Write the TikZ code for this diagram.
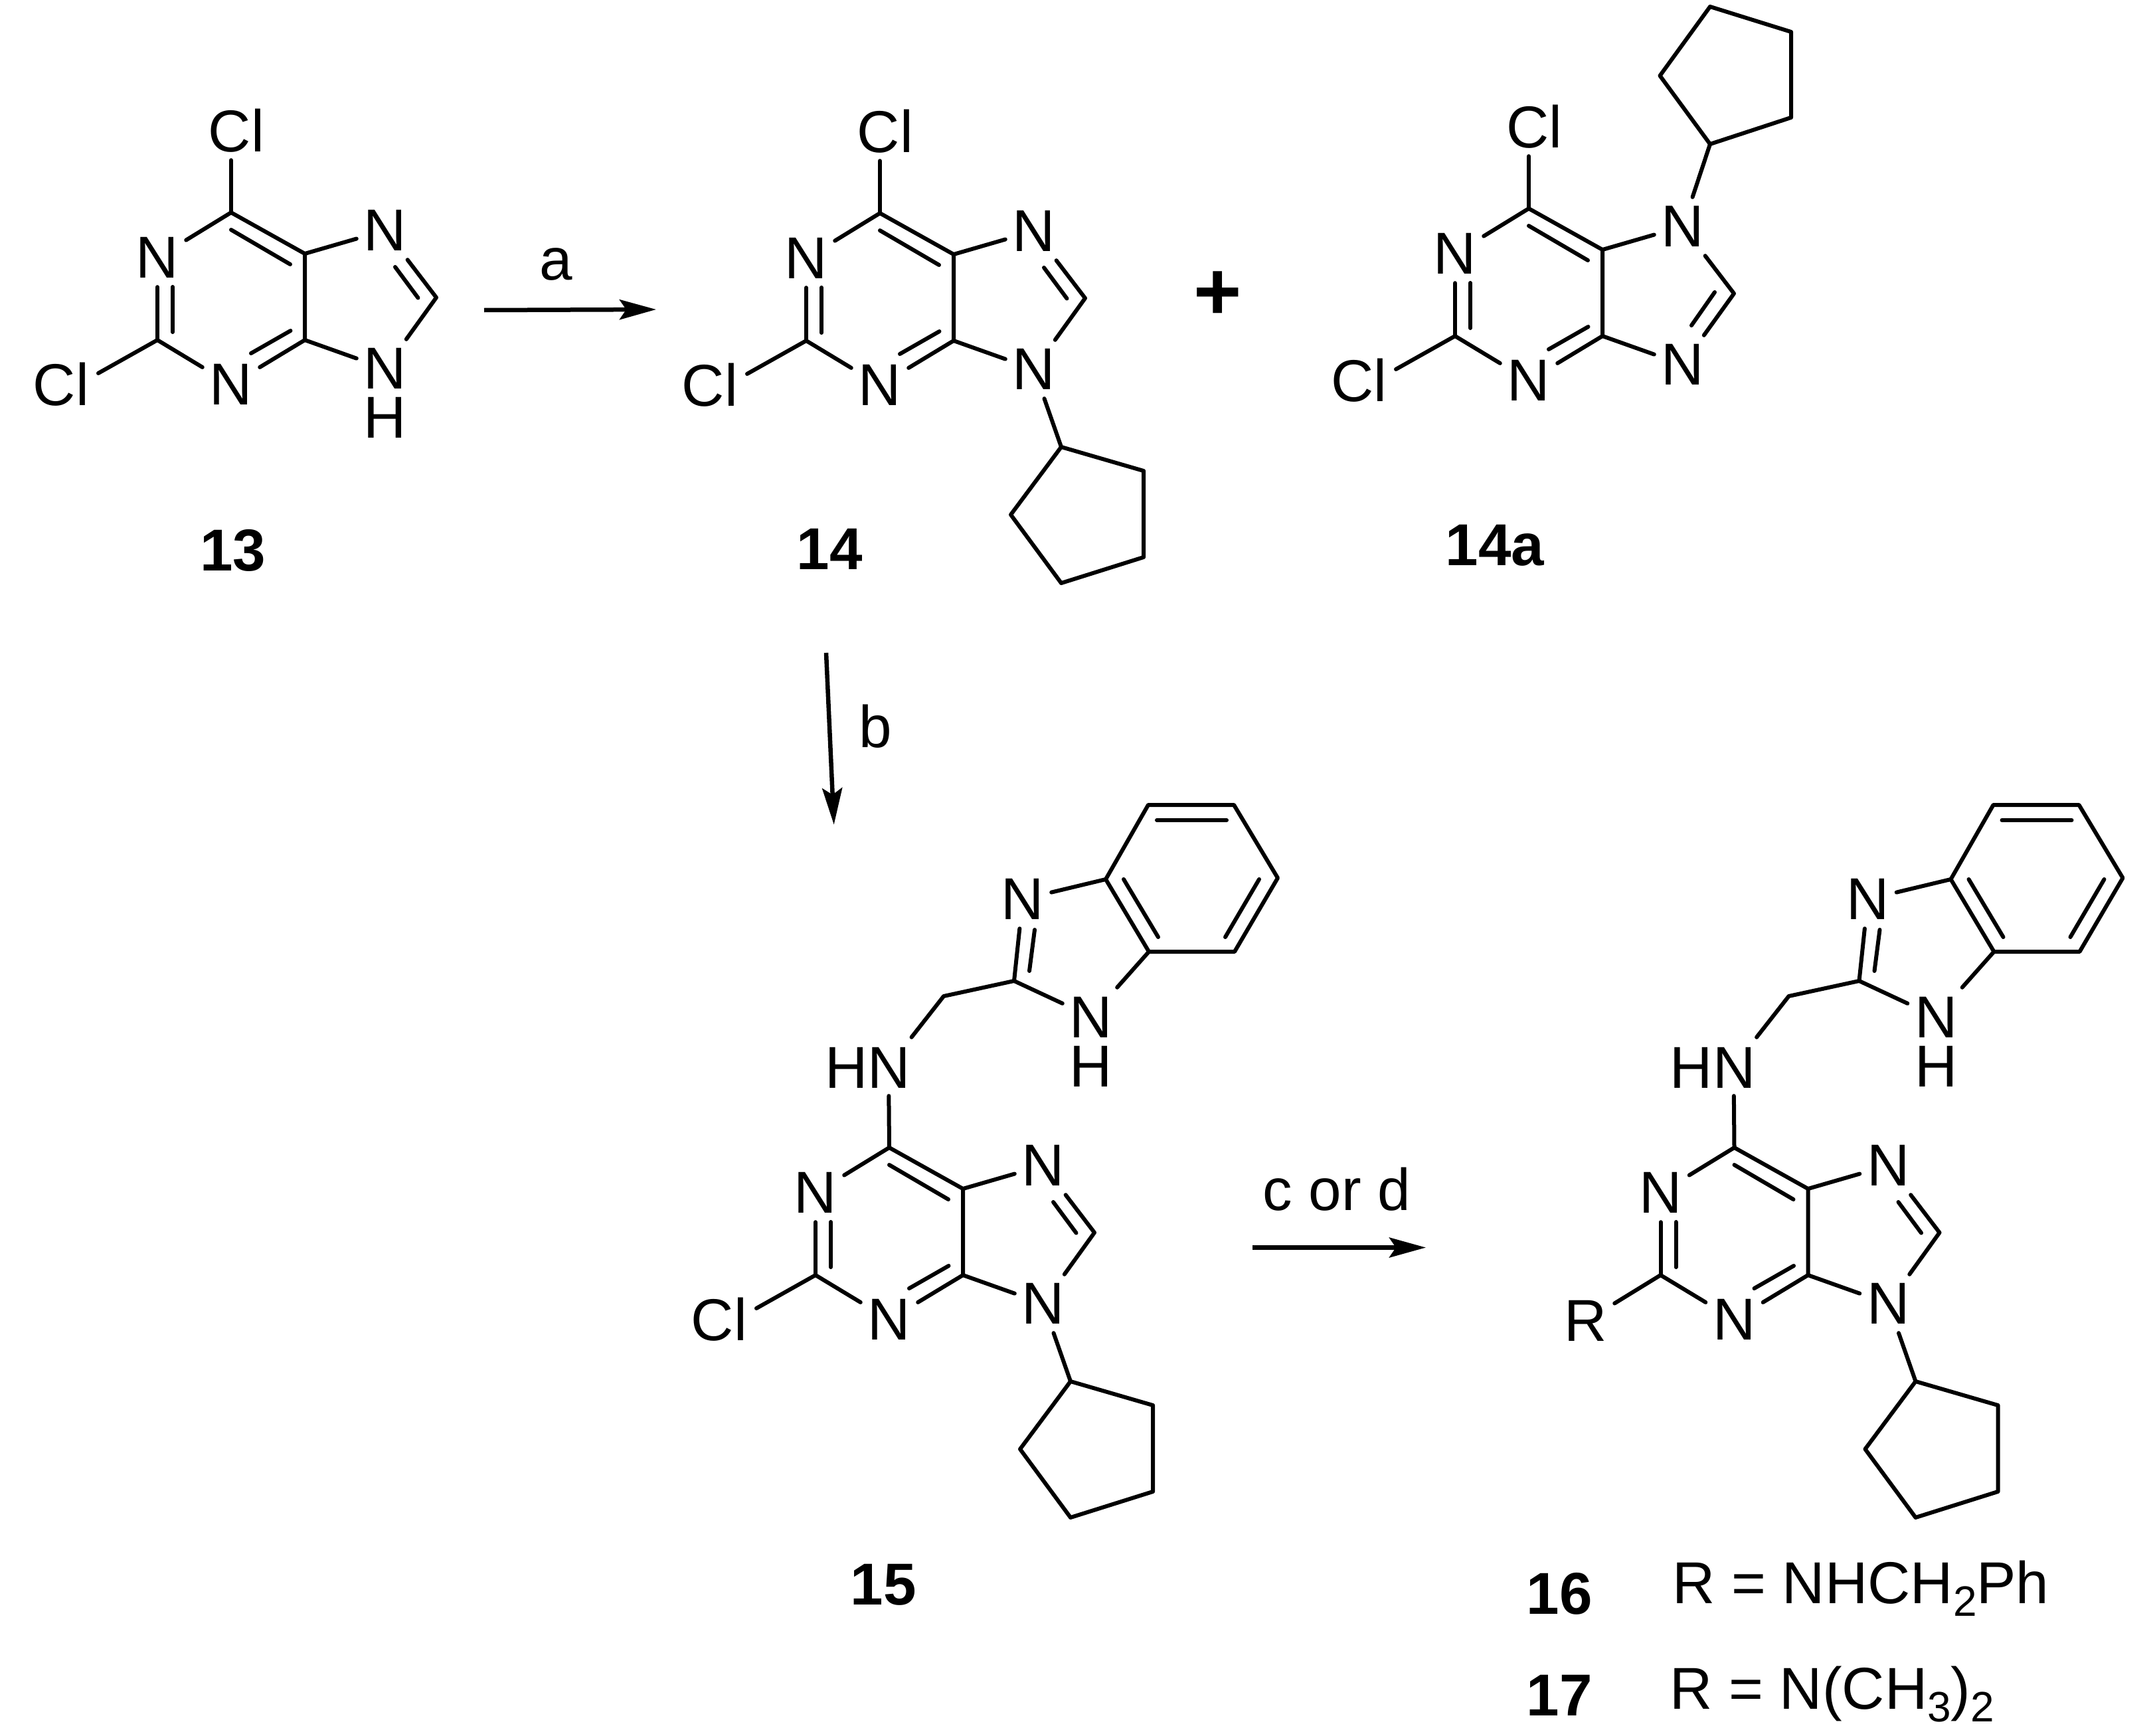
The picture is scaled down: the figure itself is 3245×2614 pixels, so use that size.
\documentclass[tikz,border=0pt]{standalone}
\usepackage{fontspec}
\setmainfont{Liberation Sans}
\usetikzlibrary{arrows.meta}
\tikzset{
  x=1pt,y=-1pt,
  bond/.style={line width=6pt,line cap=round,line join=round},
  atomlabel/.style={rectangle,minimum width=86pt,minimum height=88pt,inner sep=0pt,font=\fontsize{89}{89}\selectfont},
  plainlabel/.style={inner sep=0pt,font=\fontsize{89}{89}\selectfont},
  stacklabel/.style={inner sep=0pt,align=center,font=\fontsize{89}{74}\selectfont},
  reagent/.style={inner sep=0pt,anchor=base,font=\fontsize{89}{89}\selectfont},
  compound/.style={inner sep=0pt,anchor=base,font=\fontsize{89}{89}\selectfont\bfseries},
  rgroup/.style={inner sep=0pt,anchor=base west,font=\fontsize{89}{89}\selectfont},
  rxn/.style={line width=6.5pt,-{Stealth[length=55pt,width=30pt,inset=10pt]}},
}
\newcommand{\subtext}[1]{\raisebox{-19pt}{\fontsize{64}{64}\selectfont #1}}
\newcommand{\innerbond}[3]{%
  \coordinate (#1a) at (#2);
  \coordinate (#1b) at (#3);
  \draw[bond] (#1a) -- (#1b);}
\newcommand{\purinecore}[2]{%
  \coordinate (#1c6) at (0,0);
  \coordinate (#1c5) at (111,62);
  \coordinate (#1c4) at (111,192);
  \coordinate (#1c2) at (-111,192);
  \coordinate (#1c8) at (309,128);
  \node[atomlabel] (#1n1) at (-111,68) {N};
  \node[atomlabel] (#1n3) at (0,259) {N};
  \node[atomlabel] (#1n7) at (232,27) {N};
  \node[atomlabel] (#1n9) at (232,235) {#2};
  \draw[bond] (#1c6) -- (#1n1);
  \draw[bond] (#1c6) -- (#1c5) -- (#1c4);
  \draw[bond] (#1c4) -- (#1n3);
  \draw[bond] (#1n3) -- (#1c2);
  \draw[bond] (#1c2) -- (#1n1);
  \draw[bond] (#1c5) -- (#1n7);
  \draw[bond] (#1c4) -- (#1n9);
  \innerbond{#1ia}{0,26}{89,78}
  \innerbond{#1ib}{-88,112}{-88,180}
  \innerbond{#1ic}{30,212}{89.5,178}
}
\newcommand{\imidseven}[1]{%
  \draw[bond] (#1n7) -- (#1c8) -- (#1n9);
  \innerbond{#1id}{247,82}{281.5,128.5}
}
\newcommand{\imidnine}[1]{%
  \draw[bond] (#1n7) -- (#1c8) -- (#1n9);
  \innerbond{#1id}{245,176}{280,126}
}
\newcommand{\topchloro}[1]{%
  \node[plainlabel,minimum height=88pt] (#1clt) at (8,-123) {Cl};
  \draw[bond] (#1c6) -- (#1c6 |- #1clt.south);
}
\newcommand{\leftchloro}[1]{%
  \node[plainlabel] (#1cll) at (-256,259) {Cl};
  \coordinate (#1clend) at (-200,242);
  \draw[bond] (#1c2) -- (#1clend);
}
\newcommand{\cpdown}[1]{%
  \coordinate (#1p1) at (273,352);
  \coordinate (#1p2) at (397,388);
  \coordinate (#1p3) at (397,518);
  \coordinate (#1p4) at (273,557);
  \coordinate (#1p5) at (197,454);
  \draw[bond] (#1n9) -- (#1p1);
  \draw[bond] (#1p1) -- (#1p2) -- (#1p3) -- (#1p4) -- (#1p5) -- cycle;
}
\newcommand{\cpup}[1]{%
  \coordinate (#1p1) at (273,-97);
  \coordinate (#1p2) at (395,-137);
  \coordinate (#1p3) at (395,-266);
  \coordinate (#1p4) at (273,-304);
  \coordinate (#1p5) at (197.5,-200);
  \draw[bond] (#1n7) -- (#1p1);
  \draw[bond] (#1p1) -- (#1p2) -- (#1p3) -- (#1p4) -- (#1p5) -- cycle;
}
\newcommand{\benzimchain}[1]{%
  \node[atomlabel] (#1nh) at (-1,-122) {};
  \node[plainlabel,anchor=base east] (#1hn) at ([xshift=33pt,yshift=-32pt]#1nh.center) {HN};
  \coordinate (#1ch) at (82,-228);
  \coordinate (#1b2) at (188,-251);
  \node[atomlabel] (#1b3) at (201,-374) {N};
  \node[atomlabel] (#1b1) at (304,-197) {};
  \node[stacklabel] (#1b1h) at (304,-159.5) {N\\H};
  \coordinate (#1b3a) at (391,-295);
  \coordinate (#1b7a) at (326,-404);
  \coordinate (#1b7) at (390,-516);
  \coordinate (#1b6) at (519,-516);
  \coordinate (#1b5) at (585,-406);
  \coordinate (#1b4) at (520,-295);
  \draw[bond] (#1c6) -- (#1nh);
  \draw[bond] (#1nh) -- (#1ch) -- (#1b2);
  \draw[bond] (#1b2) -- (#1b3);
  \draw[bond] (#1b2) -- (#1b1);
  \draw[bond] (#1b3) -- (#1b7a);
  \draw[bond] (#1b1) -- (#1b3a);
  \draw[bond] (#1b3a) -- (#1b7a) -- (#1b7) -- (#1b6) -- (#1b5) -- (#1b4) -- cycle;
  \innerbond{#1ie}{219,-328}{211,-266}
  \innerbond{#1if}{403,-493}{508,-493}
  \innerbond{#1ig}{557,-404}{506,-317}
  \innerbond{#1ih}{353,-404}{405,-317}
}
\begin{document}
\begin{tikzpicture}
\useasboundingbox (0,0) rectangle (3245,2614);
% 13
\begin{scope}[shift={(348,320)}]
  \purinecore{a}{}\imidseven{a}\topchloro{a}\leftchloro{a}
  \node[stacklabel] (anh) at (232,272) {N\\H};
\end{scope}
% 14
\begin{scope}[shift={(1325,321)}]
  \purinecore{b}{N}\imidseven{b}\topchloro{b}\leftchloro{b}\cpdown{b}
\end{scope}
% 14a
\begin{scope}[shift={(2302,314)}]
  \purinecore{c}{N}\imidnine{c}\topchloro{c}\leftchloro{c}\cpup{c}
\end{scope}
% 15
\begin{scope}[shift={(1339,1728)}]
  \purinecore{d}{N}\imidseven{d}\leftchloro{d}\cpdown{d}\benzimchain{d}
\end{scope}
% 16
\begin{scope}[shift={(2611.5,1728)}]
  \purinecore{e}{N}\imidseven{e}\cpdown{e}\benzimchain{e}
  \node[atomlabel] (er) at (-223.5,261) {R};
  \draw[bond] (ec2) -- (er);
\end{scope}
% plus
\node[inner sep=0pt,font=\fontsize{124}{124}\selectfont\bfseries] (plus) at (1834,445) {+};
% arrows
\coordinate (ra1) at (729,467);
\coordinate (ra2) at (988,466);
\draw[rxn] (ra1) -- (ra2);
\coordinate (rb1) at (1244,983);
\coordinate (rb2) at (1255.7,1241.7);
\draw[rxn] (rb1) -- (rb2);
\coordinate (rc1) at (1885.5,1878.5);
\coordinate (rc2) at (2147,1878.5);
\draw[rxn] (rc1) -- (rc2);
% reagents
\node[reagent] (la) at (837,421) {a};
\node[reagent] (lb) at (1318,1125) {b};
\node[reagent] (lc) at (2013,1822) {c or d};
% compound numbers
\node[compound] (n13) at (351,859) {13};
\node[compound] (n14) at (1249,857) {14};
\node[compound] (n14a) at (2251,851) {14a};
\node[compound] (n15) at (1330,2416) {15};
\node[compound] (n16) at (2348,2430) {16};
\node[compound] (n17) at (2348,2583) {17};
% R definitions
\node[rgroup] (r16) at (2518,2414) {R = NHCH\subtext{2}Ph};
\node[rgroup] (r17) at (2514,2573) {R = N(CH\subtext{3})\subtext{2}};
\end{tikzpicture}
\end{document}
